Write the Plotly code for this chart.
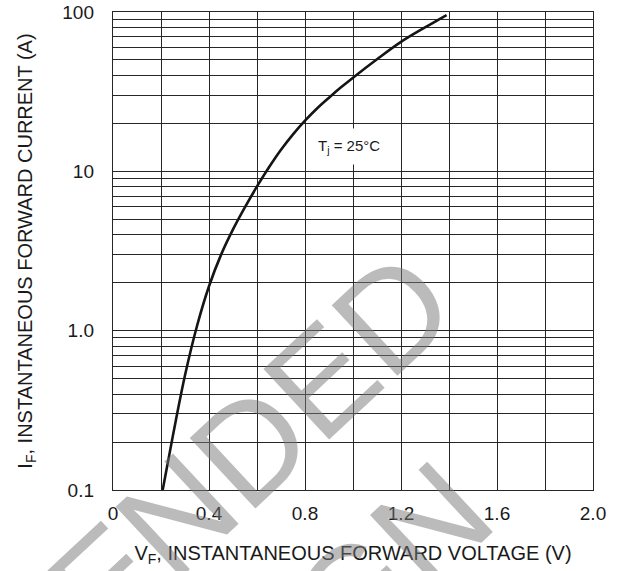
import math
import plotly.graph_objects as go

# Forward characteristic (Tj = 25 °C)
vf = [0.207, 0.25, 0.30, 0.35, 0.40, 0.45, 0.50, 0.55, 0.60, 0.65, 0.70, 0.75, 0.80, 0.85, 0.90, 0.95, 1.00, 1.10, 1.20, 1.30, 1.39]
i_f = [0.1, 0.221, 0.525, 1.07, 1.90, 2.99, 4.32, 5.96, 8.04, 10.6, 13.65, 17.06, 20.8, 24.8, 29.0, 33.65, 38.7, 50.5, 64.9, 80.0, 95.7]

x_major = [0, 0.4, 0.8, 1.2, 1.6, 2.0]
x_labels = ["0", "0.4", "0.8", "1.2", "1.6", "2.0"]
x_minor = [0.2, 0.6, 1.0, 1.4, 1.8]

y_major = [0.1, 1, 10, 100]
y_labels = ["0.1", "1.0", "10", "100"]
y_minor = [d * k for d in (0.1, 1, 10) for k in range(2, 10)]

x_title = "V<sub>F</sub>, INSTANTANEOUS FORWARD VOLTAGE (V)"
y_title = "I<sub>F</sub>, INSTANTANEOUS FORWARD CURRENT (A)"
note_text = "T<sub>j</sub> = 25°C"
watermark_lines = ["RECOMMENDED", "DESIGN"]

FONT = "Liberation Sans, Arial, sans-serif"
GRID = "#262626"

fig = go.Figure()
fig.add_trace(go.Scatter(
    x=vf, y=i_f, mode="lines",
    line=dict(color="#151515", width=2.6, shape="spline", smoothing=1.0),
    showlegend=False, hoverinfo="skip",
))

fig.update_layout(
    width=620, height=571,
    margin=dict(l=113, r=27, t=12, b=81),
    paper_bgcolor="white", plot_bgcolor="white",
    font=dict(family=FONT, color="#1a1a1a"),
    showlegend=False,
)

fig.update_xaxes(
    range=[0, 2.0], tickmode="array", tickvals=x_major, ticktext=x_labels,
    showgrid=True, gridcolor=GRID, gridwidth=1.2, zeroline=False,
    minor=dict(tickmode="array", tickvals=x_minor, showgrid=True, gridcolor=GRID, gridwidth=1.2, ticks=""),
    showline=True, linecolor=GRID, linewidth=1.4, mirror=True,
    ticks="", ticklabelstandoff=6, automargin=False,
    tickfont=dict(size=19, family=FONT, color="#1a1a1a"),
    title=dict(text=x_title, font=dict(size=20, family=FONT, color="#1a1a1a"), standoff=22),
)
fig.update_yaxes(
    type="log", range=[-1, 2], tickmode="array", tickvals=y_major, ticktext=y_labels,
    showgrid=True, gridcolor=GRID, gridwidth=1.2, zeroline=False,
    minor=dict(tickmode="array", tickvals=y_minor, showgrid=True, gridcolor=GRID, gridwidth=1.2, ticks=""),
    showline=True, linecolor=GRID, linewidth=1.4, mirror=True,
    ticks="", ticklabelstandoff=14, automargin=False, ticklabeloverflow="allow",
    tickfont=dict(size=19, family=FONT, color="#1a1a1a"),
    title=dict(text=y_title, font=dict(size=20, family=FONT, color="#1a1a1a"), standoff=24),
)

fig.add_annotation(
    x=0.983, y=math.log10(14.3), xref="x", yref="y",
    text=note_text, showarrow=False,
    font=dict(size=15, family=FONT, color="#1a1a1a"),
    bgcolor="white", borderpad=8,
)

# "NOT RECOMMENDED FOR NEW DESIGN" style watermark (partially visible)
wm_pos = [(-0.198, -0.364), (0.331, -0.379)]
for txt, (px, py) in zip(watermark_lines, wm_pos):
    fig.add_annotation(
        x=px, y=py, xref="paper", yref="paper",
        xanchor="center", yanchor="middle",
        text=txt, showarrow=False, textangle=-43,
        font=dict(size=140, family=FONT, color="rgba(120,120,120,0.5)"),
    )

fig.write_html(
    "out.html",
    config={"displayModeBar": False},
    post_script="document.body.style.margin='0px';",
)
